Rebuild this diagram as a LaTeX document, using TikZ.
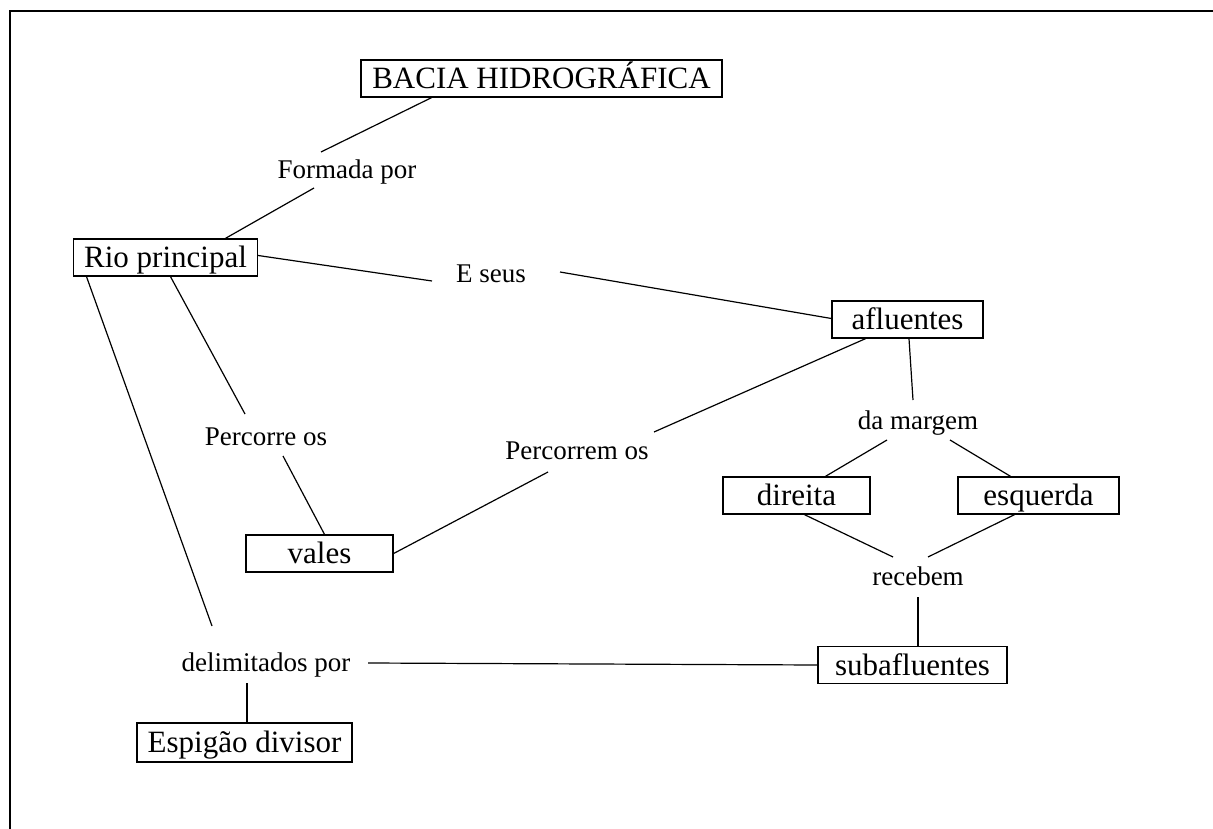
\documentclass[tikz,border=0pt]{standalone}
\usepackage{fontspec}
\setmainfont{Liberation Serif}
\begin{document}
\begin{tikzpicture}[x=1pt,y=-1pt,
  box/.style={draw,line width=1.3pt,inner sep=0pt,minimum height=37pt,text height=20pt,text depth=0pt,font=\fontsize{31}{36}\selectfont},
  lbl/.style={inner sep=2pt,text height=17pt,text depth=0pt,font=\fontsize{27}{31}\selectfont},
  conn/.style={line width=1.2pt}]
\useasboundingbox (0,0) rectangle (1213,829);
\draw[line width=2pt] (10,829) -- (10,11) -- (1213,11);
% boxes
\node[box,minimum width=361pt] (bacia) at (541.5,78.5) {BACIA HIDROGRÁFICA};
\node[box,minimum width=184pt] (rio) at (165.5,257.5) {Rio principal};
\node[box,minimum width=151pt] (afl) at (907.5,319.5) {afluentes};
\node[box,minimum width=147pt] (dir) at (796.5,495.5) {direita};
\node[box,minimum width=161pt] (esq) at (1038.5,495.5) {esquerda};
\node[box,minimum width=147pt] (vales) at (319.5,553.5) {vales};
\node[box,minimum width=189pt] (sub) at (912.5,665) {subafluentes};
\node[box,minimum width=215pt,minimum height=39pt] (esp) at (244.5,742.5) {Espigão divisor};
% labels
\node[lbl] (formada) at (347,170) {Formada por};
\node[lbl] (eseus) at (491,274) {E seus};
\node[lbl] (percorre) at (266,437) {Percorre os};
\node[lbl] (percorrem) at (577,451) {Percorrem os};
\node[lbl] (margem) at (918,421) {da margem};
\node[lbl] (recebem) at (918,577) {recebem};
\node[lbl] (delim) at (266,663) {delimitados por};
% connectors
\draw[conn] ([xshift=-110pt]bacia.south) -- ([xshift=-26pt,yshift=18pt]formada.center);
\draw[conn] ([xshift=-33pt,yshift=-18pt]formada.center) -- ([xshift=60pt]rio.north);
\draw[conn] ([yshift=2pt]rio.east) -- ([xshift=-59pt,yshift=-7pt]eseus.center);
\draw[conn] ([xshift=69pt,yshift=2pt]eseus.center) -- ([yshift=1pt]afl.west);
\draw[conn] ([xshift=5pt]rio.south) -- ([xshift=-21pt,yshift=23pt]percorre.center);
\draw[conn] ([xshift=17pt,yshift=-19pt]percorre.center) -- ([xshift=5pt]vales.north);
\draw[conn] ([xshift=-79pt]rio.south) -- ([xshift=-54pt,yshift=37pt]delim.center);
\draw[conn] ([xshift=-19pt,yshift=-20pt]delim.center) -- ([xshift=2.5pt]esp.north);
\draw[conn] ([xshift=102pt]delim.center) -- (sub.west);
\draw[conn] ([xshift=-42pt]afl.south) -- ([xshift=77pt,yshift=19pt]percorrem.center);
\draw[conn] ([xshift=-29pt,yshift=-21pt]percorrem.center) -- (vales.east);
\draw[conn] ([xshift=1.5pt]afl.south) -- ([xshift=-5pt,yshift=21pt]margem.center);
\draw[conn] ([xshift=-31pt,yshift=-19pt]margem.center) -- ([xshift=29pt]dir.north);
\draw[conn] ([xshift=32pt,yshift=-19pt]margem.center) -- ([xshift=-28pt]esq.north);
\draw[conn] ([xshift=8pt]dir.south) -- ([xshift=-25pt,yshift=20pt]recebem.center);
\draw[conn] ([xshift=-24pt]esq.south) -- ([xshift=10pt,yshift=20pt]recebem.center);
\draw[conn] ([yshift=-20pt]recebem.center) -- ([xshift=5.5pt]sub.north);
\end{tikzpicture}
\end{document}
